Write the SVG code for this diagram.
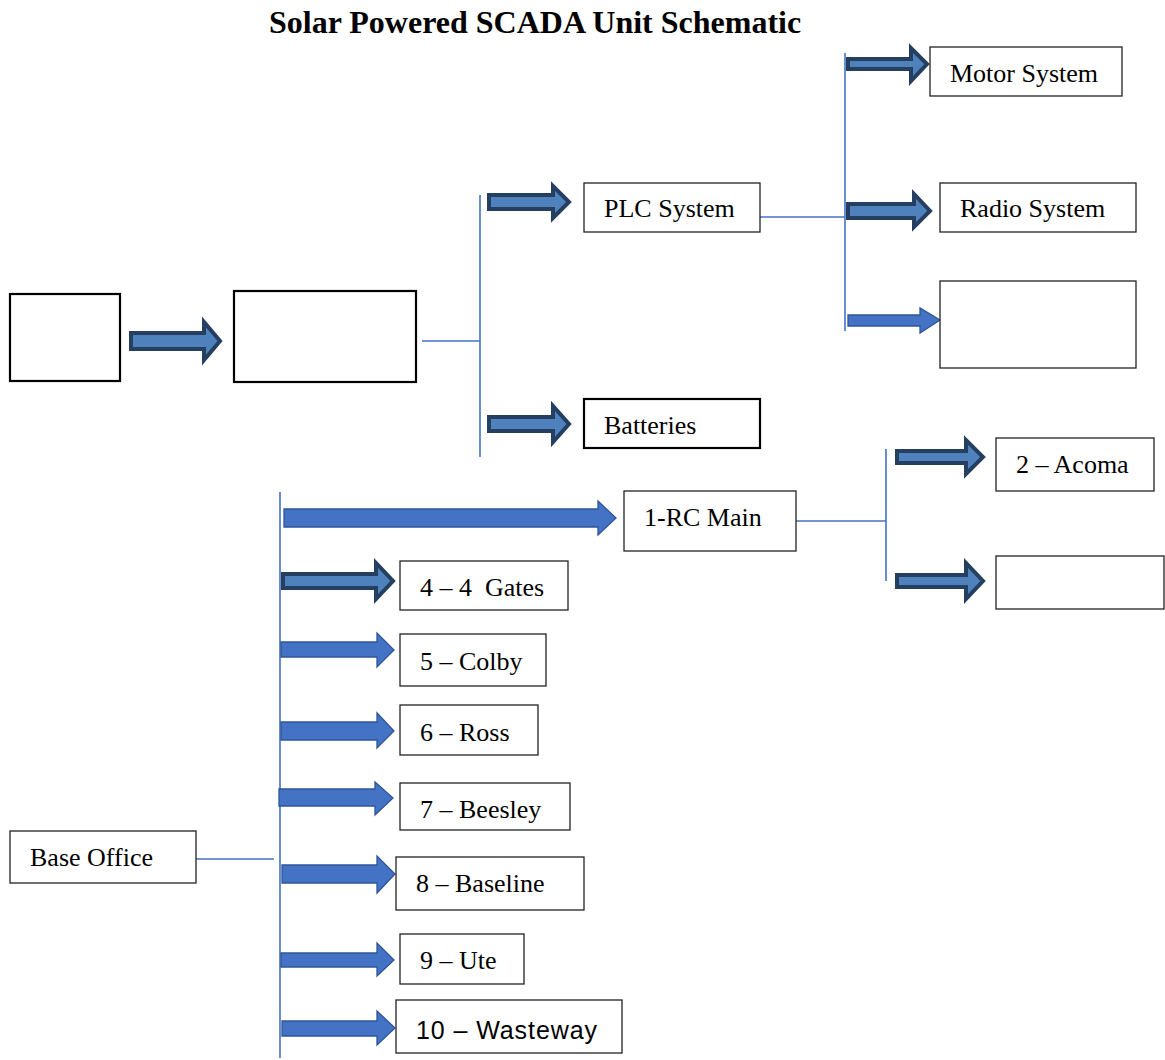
<svg xmlns="http://www.w3.org/2000/svg" width="1165" height="1060" viewBox="0 0 1165 1060">
<style>
.bx{fill:#fff;stroke:#222;stroke-width:1.3}
.bxk{fill:#fff;stroke:#000;stroke-width:2.2}
.t{font-family:"Liberation Serif","Times New Roman",serif;font-size:26px;fill:#000}
.ts{font-family:"Liberation Sans",Arial,sans-serif;font-size:25px;fill:#000}
.ln{stroke:#4472C4;stroke-width:1.6;fill:none}
.ad{fill:#4F81BD;stroke:#243F60;stroke-width:4;stroke-linejoin:miter}
.ap{fill:#4472C4;stroke:#2F5597;stroke-width:1.3}
</style>
<rect width="1165" height="1060" fill="#fff"/>
<text x="269" y="33" font-family="Liberation Serif,'Times New Roman',serif" font-weight="bold" font-size="32">Solar Powered SCADA Unit Schematic</text>

<g id="connectors">
<line class="ln" x1="422" y1="341" x2="480" y2="341"/>
<line class="ln" x1="480" y1="195" x2="480" y2="457"/>
<line class="ln" x1="760" y1="217" x2="845" y2="217"/>
<line class="ln" x1="845" y1="53" x2="845" y2="331"/>
<line class="ln" x1="196" y1="859" x2="274" y2="859"/>
<line class="ln" x1="280" y1="492" x2="280" y2="1058"/>
<line class="ln" x1="796" y1="521" x2="886" y2="521"/>
<line class="ln" x1="886" y1="449" x2="886" y2="581"/>
<polygon class="ad" points="131,333 204,333 204,322 220,341 204,360 204,349 131,349"/>
<polygon class="ad" points="489,195 553,195 553,186 569,202 553,218 553,209 489,209"/>
<polygon class="ad" points="489,417 553,417 553,406 569,424 553,442 553,431 489,431"/>
<polygon class="ad" points="848,59 911,59 911,48 927,64 911,81 911,69 848,69"/>
<polygon class="ad" points="848,204 914,204 914,194 930,211 914,227 914,218 848,218"/>
<polygon class="ad" points="897,451 966,451 966,440 983,457 966,474 966,463 897,463"/>
<polygon class="ad" points="897,575 966,575 966,563 983,581 966,599 966,587 897,587"/>
<polygon class="ad" points="283,574 376,574 376,563 393,581 376,599 376,588 283,588"/>
<polygon class="ap" points="848,315 920,315 920,308 940,320 920,333 920,326 848,326"/>
<polygon class="ap" points="284,509 598,509 598,501 616,518 598,535 598,527 284,527"/>
<polygon class="ap" points="281,642 377,642 377,633 394,650 377,667 377,657 281,657"/>
<polygon class="ap" points="281,722 377,722 377,713 394,731 377,748 377,740 281,740"/>
<polygon class="ap" points="279,789 375,789 375,782 393,798 375,815 375,806 279,806"/>
<polygon class="ap" points="282,865 377,865 377,856 395,874 377,893 377,883 282,883"/>
<polygon class="ap" points="281,953 377,953 377,943 394,960 377,976 377,967 281,967"/>
<polygon class="ap" points="282,1021 377,1021 377,1011 395,1028 377,1045 377,1036 282,1036"/>
</g>

<g id="box-a"><rect class="bxk" x="10" y="294" width="110" height="87"/></g>
<g id="box-b"><rect class="bxk" x="234" y="291" width="182" height="91"/></g>
<g id="plc"><rect class="bx" x="584" y="183" width="176" height="49"/><text class="t" x="604" y="217">PLC System</text></g>
<g id="batteries"><rect class="bxk" x="584" y="399" width="176" height="49"/><text class="t" x="604" y="434">Batteries</text></g>
<g id="motor"><rect class="bx" x="930" y="47" width="192" height="49"/><text class="t" x="950" y="82">Motor System</text></g>
<g id="radio"><rect class="bx" x="940" y="183" width="196" height="49"/><text class="t" x="960" y="217">Radio System</text></g>
<g id="box-empty1"><rect class="bx" x="940" y="281" width="196" height="87"/></g>
<g id="base-office"><rect class="bx" x="10" y="831" width="186" height="52"/><text class="t" x="30" y="866">Base Office</text></g>
<g id="rc-main"><rect class="bx" x="624" y="491" width="172" height="60"/><text class="t" x="644" y="526">1-RC Main</text></g>
<g id="acoma"><rect class="bx" x="996" y="438" width="158" height="53"/><text class="t" x="1016" y="473">2 – Acoma</text></g>
<g id="box-empty2"><rect class="bx" x="996" y="556" width="168" height="53"/></g>
<g id="gates"><rect class="bx" x="400" y="561" width="168" height="49"/><text class="t" x="420" y="596" xml:space="preserve">4 – 4  Gates</text></g>
<g id="colby"><rect class="bx" x="400" y="634" width="146" height="52"/><text class="t" x="420" y="670">5 – Colby</text></g>
<g id="ross"><rect class="bx" x="400" y="705" width="138" height="50"/><text class="t" x="420" y="741">6 – Ross</text></g>
<g id="beesley"><rect class="bx" x="400" y="783" width="170" height="47"/><text class="t" x="420" y="818">7 – Beesley</text></g>
<g id="baseline"><rect class="bx" x="396" y="857" width="188" height="53"/><text class="t" x="416" y="892">8 – Baseline</text></g>
<g id="ute"><rect class="bx" x="400" y="934" width="124" height="50"/><text class="t" x="420" y="969">9 – Ute</text></g>
<g id="wasteway"><rect class="bx" x="396" y="1000" width="226" height="53"/><text class="ts" x="416" y="1039" textLength="181">10 – Wasteway</text></g>
</svg>
